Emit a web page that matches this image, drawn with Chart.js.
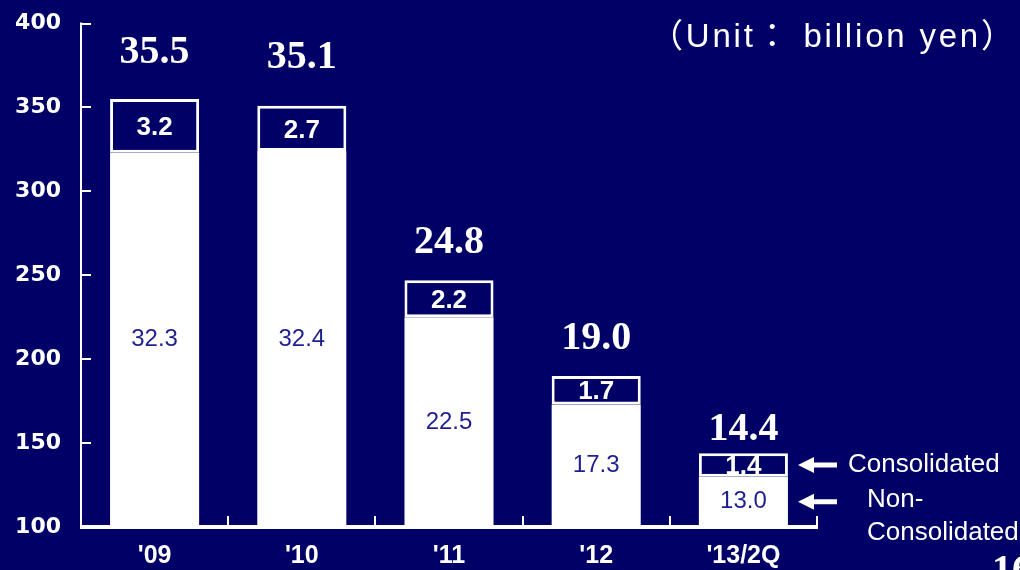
<!DOCTYPE html>
<html>
<head>
<meta charset="utf-8">
<script src="https://cdn.jsdelivr.net/npm/chart.js@4.4.1/dist/chart.umd.min.js"></script>
<style>
  html, body { margin: 0; padding: 0; background: #000066; }
  #wrap { position: relative; width: 1020px; height: 570px; }
  canvas { display: block; }
</style>
</head>
<body>
<div id="wrap"><canvas id="c" width="1020" height="570"></canvas></div>
<script>
// Fiscal periods along the category axis
const periods = ["'09", "'10", "'11", "'12", "'13/2Q"];
// Amounts in 100 million yen (value-axis units); printed labels are in billion yen
const nonConsolidated = [323, 324, 225, 173, 130];
const consolidated = [32, 27, 22, 17, 14];
// Totals printed above each bar, in billion yen
const totals = [35.5, 35.1, 24.8, 19.0, 14.4];
// Value-axis range and tick step
const axisMin = 100;
const axisMax = 400;
const axisStep = 50;

const NAVY = '#000066';
const WHITE = '#ffffff';
const LABEL_BLUE = '#1f1f8f';
// how far each total sits above its bar (px)
const totalLift = [36, 38, 27, 27, 13];

const toBillion = v => (v / 10).toFixed(1);

// Axis lines with inward ticks, value labels, unit note and key arrows
const decor = {
  id: 'decor',
  afterDatasetsDraw(chart) {
    const { ctx, chartArea: a, scales: { x, y } } = chart;
    ctx.save();
    ctx.fillStyle = WHITE;

    // value axis line and ticks
    ctx.fillRect(a.left - 1, a.top - 1, 2, a.bottom - a.top + 3);
    y.ticks.forEach(t => {
      const py = Math.round(y.getPixelForValue(t.value));
      ctx.fillRect(a.left - 1, py - 1, 11, 2);
    });

    // category axis line and boundary ticks
    ctx.fillRect(a.left - 1, a.bottom - 2, a.right - a.left + 2, 4);
    const half = (x.getPixelForValue(1) - x.getPixelForValue(0)) / 2;
    for (let i = 0; i <= periods.length; i++) {
      const px = Math.round(x.getPixelForValue(0) - half + i * half * 2);
      ctx.fillRect(px - 1, a.bottom - 11, 2, 10);
    }

    ctx.textAlign = 'center';
    periods.forEach((p, i) => {
      const cx = x.getPixelForValue(i);
      const yBase = y.getPixelForValue(axisMin);
      const yMid = y.getPixelForValue(nonConsolidated[i]);
      const yTop = y.getPixelForValue(nonConsolidated[i] + consolidated[i]);

      // non-consolidated value
      ctx.fillStyle = LABEL_BLUE;
      ctx.font = '24px "Liberation Sans", Arial, sans-serif';
      ctx.textBaseline = 'middle';
      ctx.fillText(toBillion(nonConsolidated[i]), cx, (yBase + yMid) / 2);

      // consolidated value
      ctx.fillStyle = WHITE;
      ctx.font = 'bold 26px "Liberation Sans", Arial, sans-serif';
      ctx.fillText(toBillion(consolidated[i]), cx, (yMid + yTop) / 2 + 2);

      // total
      ctx.font = 'bold 40px "Liberation Serif", "Times New Roman", serif';
      ctx.textBaseline = 'alphabetic';
      ctx.fillText(totals[i].toFixed(1), cx, yTop - totalLift[i]);
    });

    // unit note
    ctx.textAlign = 'left';
    ctx.textBaseline = 'alphabetic';
    ctx.fillStyle = WHITE;
    ctx.font = '33px "Liberation Sans", "Noto Sans CJK JP", sans-serif';
    if ('letterSpacing' in ctx) ctx.letterSpacing = '2.8px';
    ctx.fillText('（Unit： billion yen）', 650, 47);
    if ('letterSpacing' in ctx) ctx.letterSpacing = '0px';

    // key: arrows pointing at the last bar's two segments
    const last = periods.length - 1;
    const yCons = (y.getPixelForValue(nonConsolidated[last]) +
                   y.getPixelForValue(nonConsolidated[last] + consolidated[last])) / 2;
    const yNon = (y.getPixelForValue(axisMin) + y.getPixelForValue(nonConsolidated[last])) / 2;
    const arrow = (yy) => {
      ctx.beginPath();
      ctx.moveTo(798, yy);
      ctx.lineTo(814, yy - 8);
      ctx.lineTo(814, yy - 2.5);
      ctx.lineTo(837, yy - 2.5);
      ctx.lineTo(837, yy + 2.5);
      ctx.lineTo(814, yy + 2.5);
      ctx.lineTo(814, yy + 8);
      ctx.closePath();
      ctx.fill();
    };
    arrow(yCons);
    arrow(yNon);

    ctx.font = '26px "Liberation Sans", Arial, sans-serif';
    ctx.fillText('Consolidated', 848, 472);
    ctx.fillText('Non-', 867, 507);
    ctx.fillText('Consolidated', 867, 540);

    // page number, running off the lower edge
    ctx.font = 'bold 40px "Liberation Serif", "Times New Roman", serif';
    ctx.fillText('16', 992, 582);

    ctx.restore();
  }
};

new Chart(document.getElementById('c').getContext('2d'), {
  type: 'bar',
  data: {
    labels: periods,
    datasets: [
      {
        label: 'Non-Consolidated',
        data: nonConsolidated,
        backgroundColor: WHITE,
        borderWidth: 0,
        base: axisMin,
        clip: 0
      },
      {
        label: 'Consolidated',
        data: consolidated,
        backgroundColor: NAVY,
        borderColor: WHITE,
        borderWidth: 3,
        borderSkipped: false,
        clip: 0
      }
    ]
  },
  options: {
    responsive: false,
    animation: false,
    devicePixelRatio: 1,
    layout: { padding: { top: 23.5, right: 203, left: 0, bottom: 0 } },
    plugins: { legend: { display: false }, tooltip: { enabled: false } },
    datasets: { bar: { categoryPercentage: 1, barPercentage: 0.605 } },
    scales: {
      x: {
        stacked: true,
        grid: { display: false, drawTicks: false },
        border: { display: false },
        ticks: {
          color: WHITE,
          font: { family: '"Liberation Sans", Arial, sans-serif', weight: 'bold', size: 25 },
          padding: 14,
          maxRotation: 0,
          autoSkip: false
        },
        afterFit: s => { s.height = 43; s.paddingLeft = 0; s.paddingRight = 0; }
      },
      y: {
        stacked: true,
        min: axisMin,
        max: axisMax,
        grid: { display: false, drawTicks: false },
        border: { display: false },
        ticks: {
          stepSize: axisStep,
          color: WHITE,
          font: { family: '"DejaVu Sans", sans-serif', weight: 'bold', size: 22 },
          padding: 20
        },
        afterFit: s => { s.width = 81; s.paddingTop = 0; s.paddingBottom = 0; }
      }
    }
  },
  plugins: [decor]
});
</script>
</body>
</html>
